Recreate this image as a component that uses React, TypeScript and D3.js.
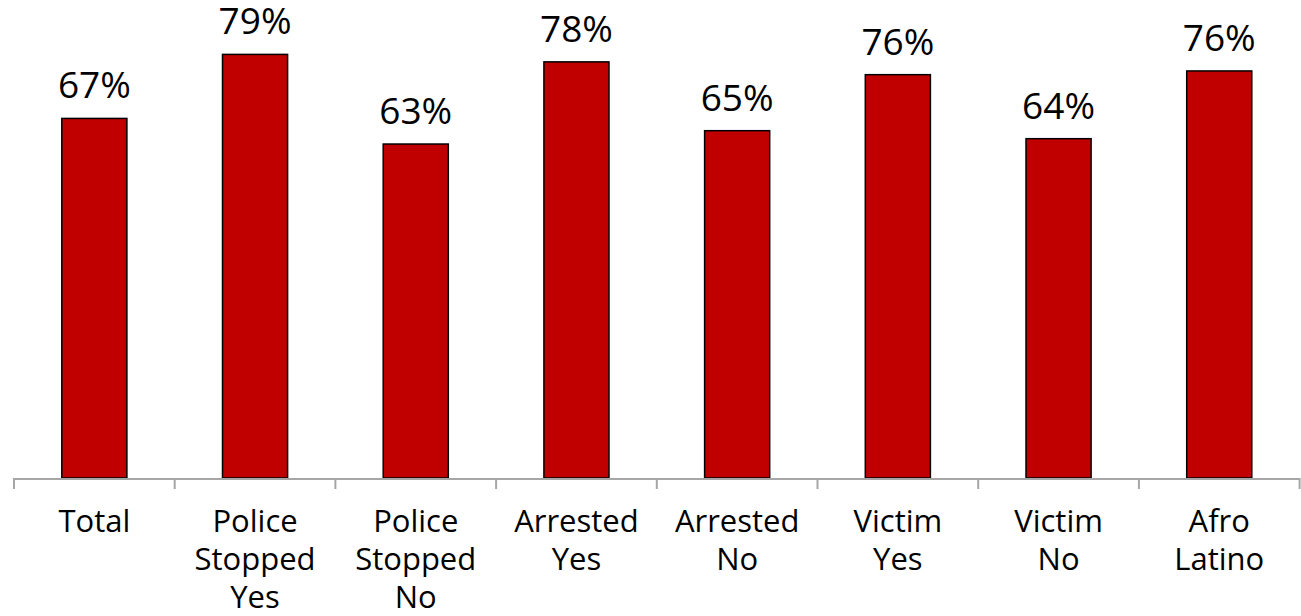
import React from "react";
import * as d3 from "d3";

const categories = ["Total", "Police Stopped Yes", "Police Stopped No", "Arrested Yes", "Arrested No", "Victim Yes", "Victim No", "Afro Latino"];
const categoryLines = [["Total"], ["Police", "Stopped", "Yes"], ["Police", "Stopped", "No"], ["Arrested", "Yes"], ["Arrested", "No"], ["Victim", "Yes"], ["Victim", "No"], ["Afro", "Latino"]];
const values = [67.4, 79.4, 62.6, 78.0, 65.1, 75.6, 63.6, 76.3];
const valueLabels = ["67%", "79%", "63%", "78%", "65%", "76%", "64%", "76%"];

const W = 1301;
const H = 616;
const FONT = "'Open Sans', 'DejaVu Sans', sans-serif";

export default function App() {
  const x = d3.scaleBand<string>().domain(categories).range([14, 1299.6]).paddingInner(0.595).paddingOuter(0.2975);
  const y = d3.scaleLinear().domain([0, 90]).range([478, -2.15]);
  const step = x.step();
  const bw = x.bandwidth();
  const ticks = categories.map((c) => (x(c) as number) - (step - bw) / 2);
  ticks.push(1299.6);
  const y0 = y(0);

  return (
    <div style={{ position: "absolute", left: 0, top: 0 }}>
      <svg width={W} height={H} style={{ display: "block", background: "#fff" }}>
        {categories.map((c, i) => (
          <rect key={c} x={x(c)} y={y(values[i])} width={bw} height={y0 - y(values[i])} fill="#C00000" stroke="#000" strokeWidth={1.5} />
        ))}
        <line x1={14} x2={1299.6} y1={y0 + 1} y2={y0 + 1} stroke="#A6A6A6" strokeWidth={2} />
        {ticks.map((t, i) => (
          <line key={i} x1={t} x2={t} y1={y0} y2={y0 + 11} stroke="#A6A6A6" strokeWidth={2} />
        ))}
        {categories.map((c, i) => (
          <text key={c} x={(x(c) as number) + bw / 2} y={y(values[i]) - 20} textAnchor="middle" fontFamily={FONT} fontSize={37} fill="#000">
            {valueLabels[i]}
          </text>
        ))}
        {categories.map((c, i) => (
          <text key={c} textAnchor="middle" fontFamily={FONT} fontSize={31} fill="#000">
            {categoryLines[i].map((ln, j) => (
              <tspan key={j} x={(x(c) as number) + bw / 2} y={532 + j * 38}>
                {ln}
              </tspan>
            ))}
          </text>
        ))}
      </svg>
    </div>
  );
}
